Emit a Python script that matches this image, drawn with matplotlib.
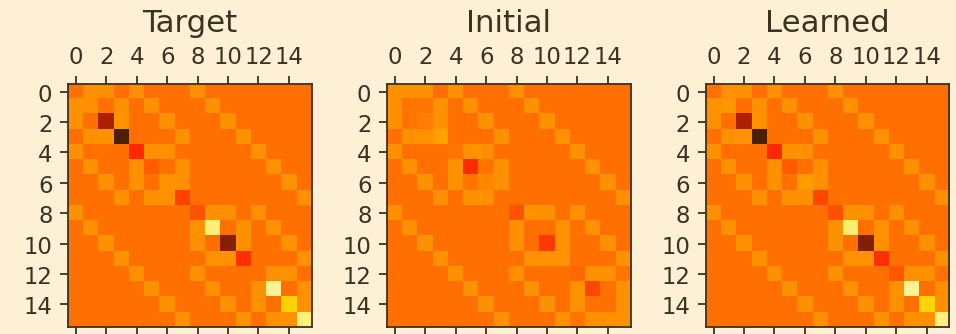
import numpy as np
import matplotlib
matplotlib.use('Agg')
import matplotlib.pyplot as plt
from matplotlib.colors import LinearSegmentedColormap

# colours of the page
bg = '#fdf0d4'
ink = '#3b3220'

titles = ['Target', 'Initial', 'Learned']
n = 16

# neighbouring pairs (hypercube edges) that are lighter than the background level
edges = [(0, 1), (0, 2), (0, 4), (0, 8),
         (1, 3), (1, 5), (1, 9),
         (2, 3), (2, 6), (2, 10),
         (3, 7), (3, 11),
         (4, 5), (4, 6), (4, 12),
         (5, 7), (5, 13),
         (6, 7), (6, 14),
         (7, 15),
         (8, 9), (8, 10), (8, 12),
         (9, 11), (9, 13),
         (10, 11), (10, 14),
         (11, 15),
         (12, 13), (12, 14),
         (13, 15),
         (14, 15)]
edge_value = 0.175

# diagonal entries
target_diag = [0.0, 0.175, -1.12, -1.64, -0.41, -0.10, 0.175, -0.27,
               -0.18, 1.30, -1.30, -0.36, 0.0, 1.52, 0.64, 1.30]
initial_diag = [0.175, 0.03, 0.08, 0.31, 0.03, -0.40, 0.13, 0.0,
                -0.16, 0.0, -0.32, 0.20, -0.05, -0.23, 0.0, 0.175]
learned_diag = [0.0, 0.23, -1.07, -1.64, -0.41, -0.12, 0.26, -0.23,
                -0.18, 1.25, -1.34, -0.36, -0.14, 1.52, 0.68, 1.35]

# small non-edge values seen in the initial matrix
initial_extra = [((1, 2), 0.03), ((5, 6), 0.03), ((13, 14), 0.02), ((12, 15), 0.03)]

vmin, vmax = -2.0, 1.75


def build(diag, extra=()):
    m = np.zeros((n, n))
    for i, j in edges:
        m[i, j] = m[j, i] = edge_value
    for (i, j), v in extra:
        m[i, j] = m[j, i] = v
    m[np.arange(n), np.arange(n)] = diag
    return m


mats = [build(target_diag), build(initial_diag, initial_extra), build(learned_diag)]

# a warm "hot"-like map, matching the tinted colours of the picture
anchors = [(-2.0, '#1a0a00'), (-1.64, '#4a2000'), (-1.12, '#a82000'),
           (-0.41, '#ff2800'), (0.0, '#ff7000'), (0.175, '#ff9000'),
           (0.64, '#ffd200'), (1.30, '#fff07a'), (1.75, '#fff4b0')]
cmap = LinearSegmentedColormap.from_list(
    'warmhot', [((v - vmin) / (vmax - vmin), c) for v, c in anchors])

plt.rcParams['text.color'] = ink
plt.rcParams['axes.edgecolor'] = ink
plt.rcParams['xtick.color'] = ink
plt.rcParams['ytick.color'] = ink
plt.rcParams['axes.labelcolor'] = ink

dpi = 164
fig = plt.figure(figsize=(957 / dpi, 335 / dpi), dpi=dpi, facecolor=bg)
lefts = [0.0714, 0.4047, 0.7377]
for left, m, title in zip(lefts, mats, titles):
    ax = fig.add_axes([left, 0.020, 0.2543, 0.7263])
    ax.matshow(m, cmap=cmap, vmin=vmin, vmax=vmax)
    ax.set_title(title, fontsize=13.5)

fig.savefig('out.png', dpi=dpi, facecolor=bg)
